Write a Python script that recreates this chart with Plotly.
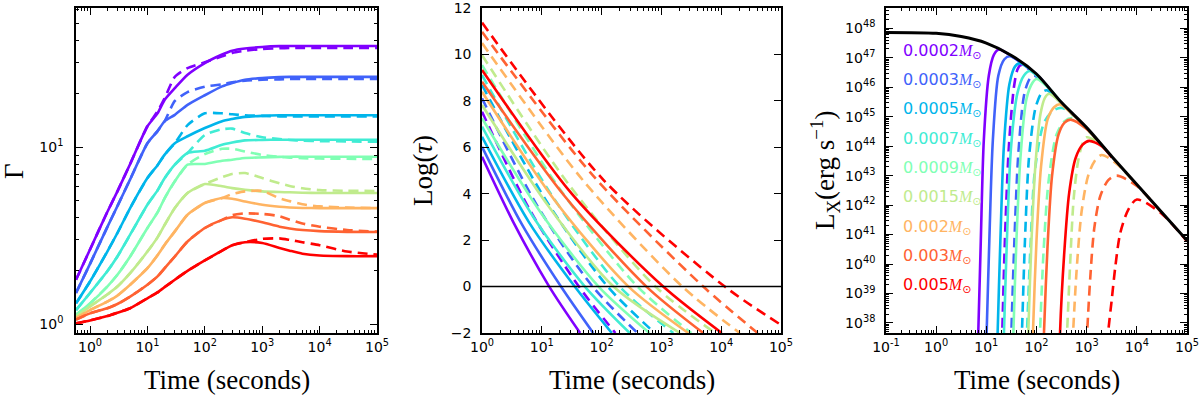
import numpy as np
import plotly.graph_objects as go

# rainbow colours, one per ejecta mass
colors = ["#8000ff", "#4062fa", "#00b5eb", "#40ecd4", "#80ffb4",
          "#c0eb8d", "#ffb462", "#ff6232", "#ff0000"]
masses = ["0.0002", "0.0003", "0.0005", "0.0007", "0.0009",
          "0.0015", "0.002", "0.003", "0.005"]

# ---- left panel: Lorentz factor ----
t_gamma = [0.57, 1, 2, 3, 5, 10, 15, 20, 30, 50, 100, 200, 300, 500,
           1000, 2000, 3000, 5000, 1e4, 3e4, 1e5]
gamma_solid = [
    [1.78, 2.64, 4.30, 5.62, 8.02, 13.1, 15.5, 18.5, 21.5, 25.6, 29.8, 33.3, 35.0, 36.0, 36.7, 37.1, 37.2, 37.2, 37.2, 37.2, 37.2],
    [1.50, 2.19, 3.53, 4.64, 6.57, 10.5, 12.3, 14.0, 15.2, 17.3, 19.6, 22.0, 23.0, 24.0, 24.5, 24.8, 24.9, 24.9, 24.9, 24.9, 24.9],
    [1.31, 1.74, 2.57, 3.27, 4.52, 6.68, 7.90, 9.06, 10.5, 11.5, 12.8, 14.0, 14.4, 14.8, 15.0, 15.1, 15.1, 15.1, 15.1, 15.1, 15.1],
    [1.20, 1.50, 1.99, 2.41, 3.20, 4.72, 5.69, 6.68, 7.95, 9.25, 9.53, 10.3, 10.6, 10.9, 10.96, 11.0, 11.0, 11.0, 11.0, 11.0, 11.0],
    [1.13, 1.31, 1.63, 1.90, 2.41, 3.49, 4.27, 5.15, 6.40, 7.95, 8.02, 8.37, 8.48, 8.67, 8.74, 8.80, 8.82, 8.82, 8.82, 8.82, 8.82],
    [1.10, 1.26, 1.47, 1.63, 1.94, 2.57, 3.09, 3.64, 4.52, 5.50, 6.18, 6.00, 5.86, 5.74, 5.62, 5.57, 5.55, 5.52, 5.50, 5.50, 5.50],
    [1.08, 1.20, 1.34, 1.45, 1.67, 2.07, 2.45, 2.81, 3.34, 4.15, 4.83, 5.15, 5.11, 4.93, 4.72, 4.60, 4.56, 4.53, 4.52, 4.52, 4.52],
    [1.06, 1.15, 1.23, 1.30, 1.43, 1.67, 1.86, 2.07, 2.41, 2.93, 3.49, 3.88, 4.01, 3.94, 3.76, 3.55, 3.47, 3.40, 3.35, 3.32, 3.31],
    [1.01, 1.05, 1.11, 1.16, 1.23, 1.40, 1.51, 1.62, 1.78, 2.00, 2.29, 2.60, 2.79, 2.90, 2.87, 2.69, 2.60, 2.50, 2.44, 2.42, 2.42],
]
gamma_dashed = [
    [1.78, 2.64, 4.30, 5.62, 8.02, 13.1, 15.9, 18.9, 24.9, 27.9, 30.1, 32.5, 34.0, 35.0, 35.8, 36.1, 36.2, 36.3, 36.3, 36.3, 36.3],
    [1.50, 2.19, 3.53, 4.64, 6.57, 10.5, 12.3, 14.0, 18.2, 20.4, 21.9, 22.6, 23.2, 23.7, 24.0, 24.1, 24.2, 24.2, 24.2, 24.2, 24.2],
    [1.31, 1.74, 2.57, 3.27, 4.52, 6.68, 7.90, 9.06, 10.5, 13.3, 15.5, 15.5, 15.3, 15.1, 15.0, 14.9, 14.9, 14.9, 14.9, 14.9, 14.9],
    [1.20, 1.50, 1.99, 2.41, 3.20, 4.72, 5.69, 6.68, 7.95, 9.25, 11.7, 12.6, 12.7, 12.0, 11.35, 11.1, 10.96, 10.85, 10.8, 10.75, 10.7],
    [1.13, 1.31, 1.63, 1.90, 2.41, 3.49, 4.27, 5.15, 6.40, 7.95, 9.12, 9.77, 9.77, 9.44, 9.02, 8.80, 8.71, 8.65, 8.61, 8.58, 8.57],
    [1.10, 1.26, 1.47, 1.63, 1.94, 2.57, 3.09, 3.64, 4.52, 5.50, 6.18, 6.76, 7.05, 7.13, 6.68, 6.24, 6.03, 5.85, 5.71, 5.66, 5.65],
    [1.08, 1.20, 1.34, 1.45, 1.67, 2.07, 2.45, 2.81, 3.34, 4.15, 4.83, 5.15, 5.43, 5.62, 5.65, 5.13, 4.95, 4.75, 4.62, 4.55, 4.52],
    [1.06, 1.15, 1.23, 1.30, 1.43, 1.67, 1.86, 2.07, 2.41, 2.93, 3.49, 3.88, 4.12, 4.22, 4.19, 4.07, 3.89, 3.70, 3.55, 3.40, 3.33],
    [1.01, 1.05, 1.11, 1.16, 1.23, 1.40, 1.51, 1.62, 1.78, 2.00, 2.29, 2.60, 2.79, 2.90, 3.03, 3.05, 2.99, 2.90, 2.79, 2.57, 2.47],
]

# ---- middle panel: log optical depth ----
tau_solid_t = [
    [1, 3.3, 13.3, 43.7],
    [1, 4.6, 20.9, 72.4],
    [1, 6.0, 35.5, 148],
    [1, 7.2, 52.5, 295],
    [1, 9.5, 89, 631],
    [1, 12.6, 158, 2042],
    [1, 16.6, 282, 2818],
    [1, 24, 562, 5012],
    [1, 31.6, 1072, 10233],
]
tau_solid_v = [
    [5.59, 2.8, 0, -2],
    [6.02, 2.7, 0, -2],
    [6.45, 2.8, 0, -2],
    [6.89, 3.0, 0, -2],
    [7.25, 3.2, 0, -2],
    [7.82, 3.5, 0, -2],
    [8.39, 3.7, 0, -2],
    [8.82, 3.9, 0, -2],
    [9.33, 4.0, 0, -2],
]
tau_dash_t = [
    [1, 6.3, 41.7, 170],
    [1, 8.3, 70.8, 398],
    [1, 11.2, 126, 776],
    [1, 14.1, 200, 1585],
    [1, 20, 398, 3162],
    [1, 28.2, 794, 7943],
    [1, 47.9, 2239, 20417],
    [1, 70.8, 5012, 40738],
    [1, 107, 11482, 1e5],
]
tau_dash_v = [
    [7.53, 3.3, 0, -2],
    [8.11, 3.5, 0, -2],
    [8.68, 3.8, 0, -2],
    [9.11, 4.0, 0, -2],
    [9.54, 4.2, 0, -2],
    [9.97, 4.4, 0, -2],
    [10.49, 4.6, 0, -2],
    [10.97, 4.8, 0, -2],
    [11.37, 4.6, 0, -1.65],
]

# ---- right panel: X-ray luminosity (log10 values) ----
lt_black = [-1, 0, 0.5, 1, 1.5, 2, 2.5, 3, 3.5, 4, 4.5, 5]
ll_black = [47.86, 47.83, 47.72, 47.50, 47.08, 46.45, 45.48, 44.63, 43.65, 42.70, 41.75, 40.80]

lx_solid_t = [
    [0.83, 0.84, 0.89, 0.95, 1.05, 1.15, 1.25, 1.5, 1.75],
    [1.0, 1.007, 1.06, 1.13, 1.24, 1.36, 1.47, 1.75, 2.0],
    [1.22, 1.226, 1.28, 1.35, 1.46, 1.57, 1.67, 2.0, 2.25],
    [1.345, 1.352, 1.41, 1.49, 1.62, 1.75, 1.87, 2.25, 2.5],
    [1.535, 1.54, 1.6, 1.68, 1.8, 1.92, 2.0, 2.25, 2.5],
    [1.83, 1.837, 1.9, 1.98, 2.08, 2.17, 2.25, 2.5, 2.75],
    [1.925, 1.93, 2.0, 2.09, 2.22, 2.35, 2.47, 2.75, 3.0],
    [2.145, 2.15, 2.22, 2.31, 2.44, 2.56, 2.68, 3.0, 3.25],
    [2.465, 2.47, 2.55, 2.65, 2.78, 2.92, 3.05, 3.3, 3.5],
]
lx_solid_v = [
    [37.3, 37.7, 40.8, 44.2, 46.4, 47.1, 47.28, 47.06, 46.76],
    [37.3, 37.7, 40.8, 44.2, 46.4, 46.95, 47.05, 46.76, 46.43],
    [37.3, 37.7, 40.8, 44.0, 46.1, 46.7, 46.82, 46.43, 45.96],
    [37.3, 37.7, 40.8, 43.9, 45.8, 46.4, 46.55, 45.96, 45.46],
    [37.3, 37.7, 40.8, 43.6, 45.6, 46.15, 46.28, 45.96, 45.46],
    [37.3, 37.7, 40.8, 43.4, 45.1, 45.65, 45.78, 45.45, 45.03],
    [37.3, 37.7, 40.8, 43.3, 44.9, 45.32, 45.42, 45.03, 44.60],
    [37.3, 37.7, 40.6, 43.0, 44.4, 44.8, 44.9, 44.58, 44.12],
    [37.3, 37.7, 40.3, 42.4, 43.6, 44.05, 44.18, 44.0, 43.62],
]
lx_dash_t = [
    [1.31, 1.318, 1.37, 1.45, 1.55, 1.62, 1.68, 2.0, 2.25],
    [1.495, 1.5, 1.56, 1.64, 1.76, 1.87, 1.95, 2.25, 2.5],
    [1.7, 1.71, 1.77, 1.85, 1.98, 2.1, 2.2, 2.5, 2.75],
    [1.8, 1.81, 1.88, 1.97, 2.15, 2.33, 2.5, 2.75, 3.0],
    [2.06, 2.07, 2.14, 2.24, 2.4, 2.56, 2.72, 3.0, 3.25],
    [2.6, 2.61, 2.67, 2.74, 2.83, 2.92, 3.0, 3.25, 3.5],
    [2.72, 2.73, 2.8, 2.9, 3.03, 3.16, 3.3, 3.6, 4.0],
    [3.0, 3.01, 3.07, 3.15, 3.27, 3.43, 3.6, 4.0, 4.5],
    [3.42, 3.43, 3.5, 3.57, 3.67, 3.83, 4.0, 4.5, 5.0],
]
lx_dash_v = [
    [37.3, 37.7, 40.8, 44.0, 46.0, 46.6, 46.75, 46.43, 45.96],
    [37.3, 37.7, 40.8, 43.8, 45.8, 46.3, 46.4, 45.96, 45.46],
    [37.3, 37.7, 40.8, 43.6, 45.3, 45.8, 45.9, 45.46, 45.03],
    [37.3, 37.7, 40.6, 43.2, 44.8, 45.2, 45.3, 45.03, 44.60],
    [37.3, 37.7, 40.4, 42.8, 44.4, 44.85, 44.95, 44.58, 44.12],
    [37.3, 37.7, 40.0, 42.2, 43.5, 44.1, 44.3, 44.1, 43.63],
    [37.3, 37.7, 39.8, 41.8, 43.0, 43.5, 43.7, 43.4, 42.68],
    [37.3, 37.7, 39.5, 41.2, 42.3, 42.85, 43.0, 42.65, 41.72],
    [37.3, 37.7, 38.8, 39.9, 41.06, 41.85, 42.19, 41.7, 40.77],
]

fig = go.Figure()

LW = 2.6
DASH = "10px,6px"

for i in range(9):
    fig.add_trace(go.Scatter(x=t_gamma, y=gamma_dashed[i], mode="lines",
                             line=dict(color=colors[i], width=LW, dash=DASH, shape="spline", smoothing=0.6),
                             xaxis="x", yaxis="y", showlegend=False))
    fig.add_trace(go.Scatter(x=t_gamma, y=gamma_solid[i], mode="lines",
                             line=dict(color=colors[i], width=LW, shape="spline", smoothing=0.6),
                             xaxis="x", yaxis="y", showlegend=False))

for i in range(9):
    fig.add_trace(go.Scatter(x=tau_solid_t[i], y=tau_solid_v[i], mode="lines",
                             line=dict(color=colors[i], width=LW, shape="spline", smoothing=0.8),
                             xaxis="x2", yaxis="y2", showlegend=False))
    fig.add_trace(go.Scatter(x=tau_dash_t[i], y=tau_dash_v[i], mode="lines",
                             line=dict(color=colors[i], width=LW, dash=DASH, shape="spline", smoothing=0.8),
                             xaxis="x2", yaxis="y2", showlegend=False))

for i in range(9):
    fig.add_trace(go.Scatter(x=10 ** np.array(lx_solid_t[i]), y=10 ** np.array(lx_solid_v[i]), mode="lines",
                             line=dict(color=colors[i], width=LW, shape="spline", smoothing=0.8),
                             xaxis="x3", yaxis="y3", showlegend=False))
    fig.add_trace(go.Scatter(x=10 ** np.array(lx_dash_t[i]), y=10 ** np.array(lx_dash_v[i]), mode="lines",
                             line=dict(color=colors[i], width=LW, dash=DASH, shape="spline", smoothing=0.8),
                             xaxis="x3", yaxis="y3", showlegend=False))

fig.add_trace(go.Scatter(x=10 ** np.array(lt_black), y=10 ** np.array(ll_black), mode="lines",
                         line=dict(color="black", width=3, shape="spline", smoothing=0.8),
                         xaxis="x3", yaxis="y3", showlegend=False))

# zero line of the optical depth panel
fig.add_shape(type="line", xref="x2 domain", yref="y2", x0=0, x1=1, y0=0, y1=0,
              line=dict(color="black", width=1.5))


def power_labels(lo, hi):
    vals = [10.0 ** p for p in range(lo, hi + 1)]
    txt = ["10<sup>%s</sup>" % (str(p) if p >= 0 else "-" + str(-p)) for p in range(lo, hi + 1)]
    return vals, txt


def minor_vals(lo, hi):
    return [k * 10.0 ** p for p in range(lo, hi + 1) for k in range(2, 10)]


tick_font = dict(family="DejaVu Sans", size=14, color="black")
common = dict(showline=True, linecolor="black", linewidth=1.5, mirror="allticks",
              ticks="inside", ticklen=7, tickwidth=1.2, tickcolor="black",
              showgrid=False, zeroline=False, tickfont=tick_font, automargin=False,
              ticklabeloverflow="allow")
minor_style = dict(ticks="inside", ticklen=3.5, tickwidth=1, tickcolor="black",
                   tickmode="array", showgrid=False)

xv, xt = power_labels(0, 5)
fig.update_layout(
    xaxis=dict(type="log", range=[-0.245, 5], domain=[0.0633, 0.3142], anchor="y",
               tickmode="array", tickvals=xv, ticktext=xt,
               minor=dict(tickvals=minor_vals(-1, 4), **minor_style), **common),
    yaxis=dict(type="log", range=[-0.05, 1.785], domain=[0.1654, 0.980], anchor="x",
               tickmode="array", tickvals=[1, 10], ticktext=["10<sup>0</sup>", "10<sup>1</sup>"],
               ticklabelstandoff=8,
               minor=dict(tickvals=minor_vals(-1, 1), **minor_style), **common),
    xaxis2=dict(type="log", range=[0, 5.0001], domain=[0.4017, 0.6508], anchor="y2",
                tickmode="array", tickvals=xv, ticktext=xt,
                minor=dict(tickvals=minor_vals(0, 4), **minor_style), **common),
    yaxis2=dict(range=[-2.0001, 12.0001], domain=[0.1654, 0.980], anchor="x2",
                tickmode="array", tickvals=list(range(-2, 13, 2)), ticklabelstandoff=6,
                **common),
)
xv3, xt3 = power_labels(-1, 5)
yv3, yt3 = power_labels(38, 48)
fig.update_layout(
    xaxis3=dict(type="log", range=[-1.0001, 5.0001], domain=[0.7383, 0.9892], anchor="y3",
                tickmode="array", tickvals=xv3, ticktext=xt3,
                minor=dict(tickvals=minor_vals(-1, 4), **minor_style), **common),
    yaxis3=dict(type="log", range=[37.66, 48.69], domain=[0.1654, 0.980], anchor="x3",
                tickmode="array", tickvals=yv3, ticktext=yt3, ticklabelstandoff=6,
                minor=dict(tickvals=minor_vals(37, 48), **minor_style), **common),
)

serif = "Liberation Serif"
title_font = dict(family=serif, size=27, color="black")
for xc in [0.1888, 0.5263, 0.8638]:
    fig.add_annotation(x=xc, y=0.048, xref="paper", yref="paper", text="Time (seconds)",
                       showarrow=False, font=title_font, xanchor="center", yanchor="middle")
fig.add_annotation(x=0.012, y=0.5727, xref="paper", yref="paper", text="Γ",
                   showarrow=False, font=title_font, textangle=-90,
                   xanchor="center", yanchor="middle")
fig.add_annotation(x=0.353, y=0.5727, xref="paper", yref="paper", text="Log(<i>τ</i>)",
                   showarrow=False, font=title_font, textangle=-90,
                   xanchor="center", yanchor="middle")
fig.add_annotation(x=0.688, y=0.5727, xref="paper", yref="paper",
                   text="L<sub>X</sub>(erg s<sup>−1</sup>)",
                   showarrow=False, font=title_font, textangle=-90,
                   xanchor="center", yanchor="middle")

# mass labels in the luminosity panel
for i in range(9):
    fig.add_annotation(x=0.751, y=0.980 - (51.3 - 8 + i * 29.3) / 399, xref="paper", yref="paper",
                       xanchor="left", yanchor="middle", showarrow=False,
                       text=masses[i] + "<span style='font-family:Liberation Serif'><i>M</i></span><sub>⊙</sub>",
                       font=dict(family="DejaVu Sans", size=16, color=colors[i]))

fig.update_layout(template="none", width=1200, height=399, margin=dict(l=0, r=0, t=0, b=0),
                  plot_bgcolor="white", paper_bgcolor="white")

# drop the browser's default page margin so the figure sits at the corner
fig.write_html("out.html", config={"displayModeBar": False},
               post_script="document.body.style.margin='0px';")
